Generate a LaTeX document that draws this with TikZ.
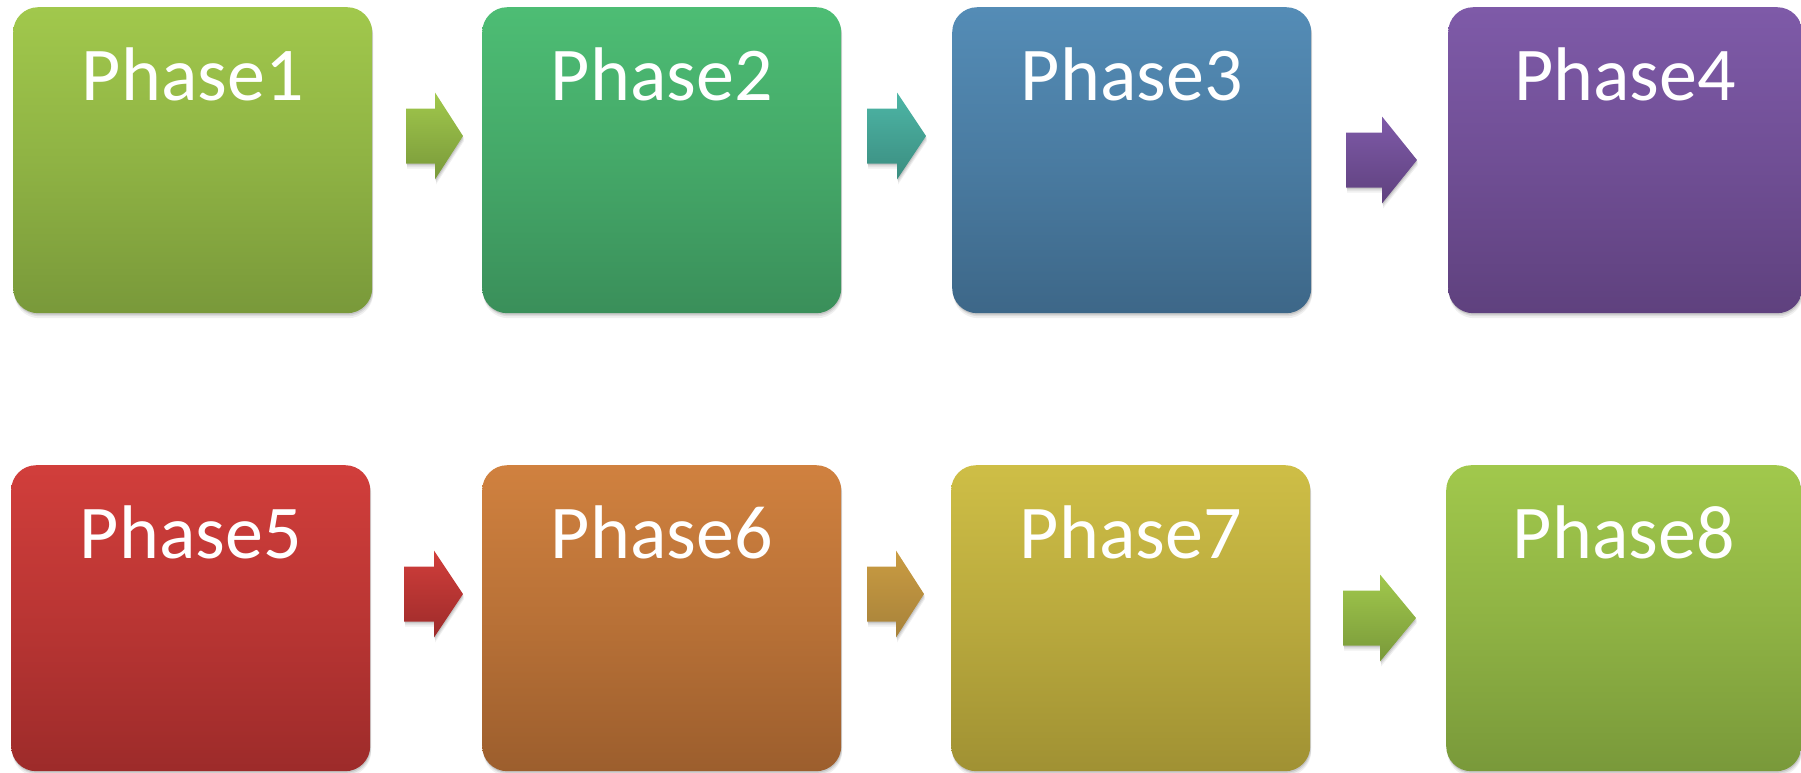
\documentclass[tikz,border=0pt]{standalone}
\usepackage{fontspec}
\setmainfont{Carlito}
\usetikzlibrary{shadows,calc}
\definecolor{gA}{HTML}{A1C84C}\definecolor{gB}{HTML}{79993A}
\definecolor{eA}{HTML}{4DBD74}\definecolor{eB}{HTML}{3A8F5A}
\definecolor{bA}{HTML}{548CB6}\definecolor{bB}{HTML}{3D6788}
\definecolor{pA}{HTML}{7E5AA8}\definecolor{pB}{HTML}{5F417E}
\definecolor{rA}{HTML}{D13E3B}\definecolor{rB}{HTML}{9D2B2A}
\definecolor{oA}{HTML}{D0813F}\definecolor{oB}{HTML}{9C5E2D}
\definecolor{yA}{HTML}{CEBE46}\definecolor{yB}{HTML}{A09133}
\definecolor{tA}{HTML}{4DB6A6}\definecolor{tB}{HTML}{3B8D80}
\definecolor{uA}{HTML}{CA9C42}\definecolor{uB}{HTML}{A7823A}
\tikzset{
  softshadow/.style={
    preaction={fill=black, opacity=0.06, transform canvas={xshift=1pt, yshift=-5pt}},
    preaction={fill=black, opacity=0.08, transform canvas={xshift=1pt, yshift=-3pt}},
    preaction={fill=black, opacity=0.10, transform canvas={xshift=0.5pt, yshift=-1.5pt}}},
  phasebox/.style 2 args={draw=none, rounded corners=25pt, minimum width=359pt,
    minimum height=306pt, inner sep=0pt, anchor=north west,
    top color=#1, bottom color=#2, middle color=#1!55!#2, softshadow},
  phaselbl/.style={text=white, font=\fontsize{76}{88}\selectfont, anchor=base, inner sep=0pt},
  blockarrow/.style={draw=none, softshadow}
}
\newcommand\barrow[5]{%
  \path[blockarrow, top color=#4, bottom color=#5]
    ($(#1)+(0,-27.5)$) -- ($(#2)+(-#3,-27.5)$) -- ($(#2)+(-#3,-43.5)$) -- (#2)
    -- ($(#2)+(-#3,43.5)$) -- ($(#2)+(-#3,27.5)$) -- ($(#1)+(0,27.5)$) -- cycle;}
\begin{document}
\begin{tikzpicture}[x=1pt, y=-1pt]
\useasboundingbox (0,0) rectangle (1801,772);
% boxes
\node[phasebox={gA}{gB}] (b1) at (13,7) {};
\node[phasebox={eA}{eB}] (b2) at (482,7) {};
\node[phasebox={bA}{bB}] (b3) at (952,7) {};
\node[phasebox={pA}{pB}, minimum width=354pt] (b4) at (1448,7) {};
\node[phasebox={rA}{rB}] (b5) at (11,465) {};
\node[phasebox={oA}{oB}] (b6) at (482,465) {};
\node[phasebox={yA}{yB}] (b7) at (951,465) {};
\node[phasebox={gA}{gB}, minimum width=355pt] (b8) at (1446,465) {};
% labels
\node[phaselbl] (t1) at ([yshift=-93pt]b1.north) {Phase1};
\node[phaselbl] (t2) at ([yshift=-93pt]b2.north) {Phase2};
\node[phaselbl] (t3) at ([yshift=-93pt]b3.north) {Phase3};
\node[phaselbl] (t4) at ([yshift=-93pt]b4.north) {Phase4};
\node[phaselbl] (t5) at ([yshift=-93pt]b5.north) {Phase5};
\node[phaselbl] (t6) at ([yshift=-93pt]b6.north) {Phase6};
\node[phaselbl] (t7) at ([yshift=-93pt]b7.north) {Phase7};
\node[phaselbl] (t8) at ([yshift=-93pt]b8.north) {Phase8};
% arrow ends
\coordinate (a1s) at (406,136); \coordinate (a1e) at (463,136);
\coordinate (a2s) at (867,136); \coordinate (a2e) at (926,136);
\coordinate (a3s) at (1346,160); \coordinate (a3e) at (1417,160);
\coordinate (a4s) at (404,594); \coordinate (a4e) at (463,594);
\coordinate (a5s) at (867,594); \coordinate (a5e) at (924,594);
\coordinate (a7s) at (1343,618); \coordinate (a7e) at (1416,618);
\barrow{a1s}{a1e}{28}{gA}{gB}
\barrow{a2s}{a2e}{29}{tA}{tB}
\barrow{a3s}{a3e}{35}{pA}{pB}
\barrow{a4s}{a4e}{29}{rA}{rB}
\barrow{a5s}{a5e}{28}{uA}{uB}
\barrow{a7s}{a7e}{36}{gA}{gB}
\end{tikzpicture}
\end{document}
